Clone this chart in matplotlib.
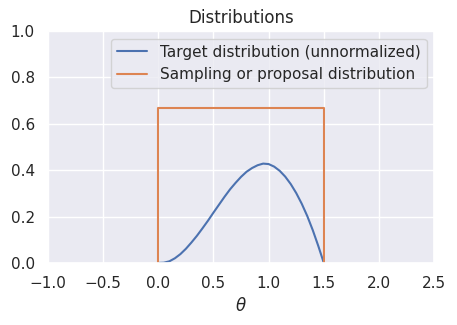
import matplotlib
matplotlib.use("Agg")
import matplotlib.pyplot as plt
import seaborn as sns

# target density (unnormalized)
theta = [0.0, 0.05, 0.1, 0.15, 0.2, 0.25, 0.3, 0.35, 0.4, 0.45, 0.5,
         0.55, 0.6, 0.65, 0.7, 0.75, 0.8, 0.85, 0.9, 0.95, 1.0,
         1.05, 1.1, 1.15, 1.2, 1.25, 1.3, 1.35, 1.4, 1.45, 1.5]
target = [0.0, 0.001, 0.007, 0.020, 0.038, 0.061, 0.088, 0.117, 0.149, 0.182, 0.217,
          0.251, 0.285, 0.317, 0.345, 0.371, 0.393, 0.409, 0.421, 0.428, 0.426,
          0.415, 0.397, 0.372, 0.340, 0.301, 0.255, 0.202, 0.141, 0.073, 0.0]

# uniform proposal on [0, 1.5]
proposal_theta = [0.0, 0.0, 1.5, 1.5]
proposal = [0.0, 0.667, 0.667, 0.0]

sns.set_theme()

fig = plt.figure(figsize=(4.57, 3.25), dpi=100)
ax = fig.add_axes([0.105, 0.191, 0.845, 0.714])

ax.plot(theta, target, label="Target distribution (unnormalized)")
ax.plot(proposal_theta, proposal, label="Sampling or proposal distribution")

ax.set_xlim(-1, 2.5)
ax.set_ylim(0, 1)
ax.set_xlabel(r"$\theta$")
ax.set_title("Distributions")
ax.legend(loc="upper right")

fig.savefig("out.png", dpi=100)
